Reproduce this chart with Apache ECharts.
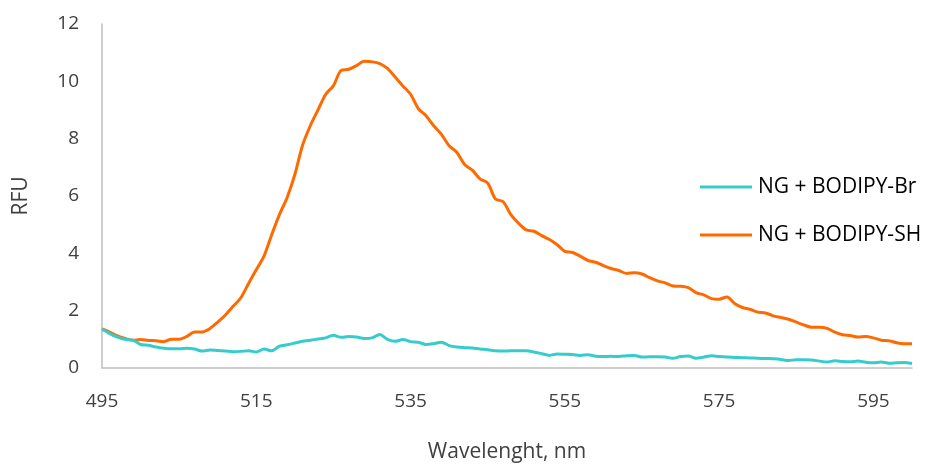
<!DOCTYPE html>
<html>
<head>
<meta charset="utf-8">
<script src="https://cdn.jsdelivr.net/npm/echarts@6/dist/echarts.min.js"></script>
<style>
html,body{margin:0;padding:0;background:#fff;}
#chart{width:932px;height:468px;}
</style>
</head>
<body>
<div id="chart"></div>
<script>
var wavelengths = [495,496,497,498,499,500,501,502,503,504,505,506,507,508,509,510,511,512,513,514,515,516,517,518,519,520,521,522,523,524,525,526,527,528,529,530,531,532,533,534,535,536,537,538,539,540,541,542,543,544,545,546,547,548,549,550,551,552,553,554,555,556,557,558,559,560,561,562,563,564,565,566,567,568,569,570,571,572,573,574,575,576,577,578,579,580,581,582,583,584,585,586,587,588,589,590,591,592,593,594,595,596,597,598,599,600];

var bodipyBr = [1.36,1.2,1.08,1.0,0.97,0.82,0.79,0.73,0.69,0.67,0.67,0.69,0.66,0.59,0.63,0.61,0.59,0.57,0.58,0.6,0.56,0.66,0.6,0.76,0.81,0.87,0.93,0.97,1.01,1.05,1.14,1.07,1.1,1.08,1.03,1.05,1.17,1.0,0.93,0.99,0.92,0.9,0.82,0.85,0.9,0.78,0.73,0.71,0.7,0.66,0.64,0.6,0.59,0.6,0.6,0.6,0.56,0.5,0.44,0.49,0.48,0.47,0.44,0.46,0.41,0.4,0.41,0.4,0.43,0.44,0.38,0.39,0.39,0.38,0.34,0.4,0.42,0.34,0.38,0.43,0.4,0.38,0.37,0.36,0.35,0.34,0.33,0.32,0.3,0.26,0.29,0.29,0.28,0.24,0.21,0.25,0.23,0.22,0.24,0.2,0.18,0.21,0.17,0.18,0.19,0.16];

var bodipySH = [1.36,1.25,1.12,1.03,0.97,0.99,0.96,0.95,0.92,1.0,1.0,1.1,1.26,1.26,1.38,1.6,1.85,2.15,2.45,2.95,3.43,3.9,4.65,5.35,5.95,6.75,7.77,8.45,9.0,9.55,9.85,10.38,10.42,10.55,10.7,10.68,10.62,10.45,10.15,9.84,9.55,9.05,8.8,8.45,8.15,7.75,7.52,7.1,6.9,6.6,6.45,5.9,5.8,5.35,5.05,4.82,4.77,4.62,4.48,4.3,4.07,4.03,3.9,3.75,3.69,3.57,3.47,3.4,3.3,3.32,3.28,3.15,3.04,2.97,2.86,2.85,2.8,2.63,2.55,2.42,2.4,2.48,2.25,2.11,2.05,1.95,1.92,1.82,1.76,1.7,1.6,1.5,1.42,1.42,1.38,1.25,1.16,1.13,1.08,1.1,1.05,0.97,0.95,0.88,0.85,0.85];

var seriesNames = ['NG + BODIPY-Br', 'NG + BODIPY-SH'];
var yTicks = {min: 0, max: 12, interval: 2};

var font = 'Open Sans';
var chart = echarts.init(document.getElementById('chart'));
chart.setOption({
  animation: false,
  backgroundColor: '#ffffff',
  textStyle: {fontFamily: font},
  grid: {left: 102, right: 20, top: 24, bottom: 96, containLabel: false},
  legend: {
    orient: 'vertical',
    left: 695,
    top: 168,
    itemGap: 20,
    itemWidth: 52,
    itemHeight: 3,
    icon: 'rect',
    textStyle: {fontFamily: font, fontSize: 21, color: '#000000', padding: [0,0,0,1], lineHeight: 28},
    data: seriesNames
  },
  xAxis: {
    type: 'category',
    data: wavelengths,
    boundaryGap: false,
    name: 'Wavelenght, nm',
    nameLocation: 'middle',
    nameGap: 74,
    nameTextStyle: {fontFamily: font, fontSize: 21, color: '#404040'},
    axisLine: {show: true, lineStyle: {color: '#bfbfbf', width: 1.5}},
    axisTick: {show: false},
    axisLabel: {interval: 19, margin: 24, fontFamily: font, fontSize: 19, color: '#404040'},
    splitLine: {show: false}
  },
  yAxis: {
    type: 'value',
    min: yTicks.min,
    max: yTicks.max,
    interval: yTicks.interval,
    name: 'RFU',
    nameLocation: 'middle',
    nameGap: 70,
    nameTextStyle: {fontFamily: font, fontSize: 21, color: '#404040'},
    axisLine: {show: true, lineStyle: {color: '#bfbfbf', width: 1.5}},
    axisTick: {show: false},
    axisLabel: {margin: 23, fontFamily: font, fontSize: 19, color: '#404040'},
    splitLine: {show: false}
  },
  series: [
    {
      name: seriesNames[0],
      type: 'line',
      data: bodipyBr,
      symbol: 'none',
      smooth: 0.3,
      lineStyle: {color: '#36CCCC', width: 3},
      itemStyle: {color: '#36CCCC'},
      z: 3
    },
    {
      name: seriesNames[1],
      type: 'line',
      data: bodipySH,
      symbol: 'none',
      smooth: 0.3,
      lineStyle: {color: '#FF6A00', width: 3},
      itemStyle: {color: '#FF6A00'},
      z: 2
    }
  ]
});
</script>
</body>
</html>
